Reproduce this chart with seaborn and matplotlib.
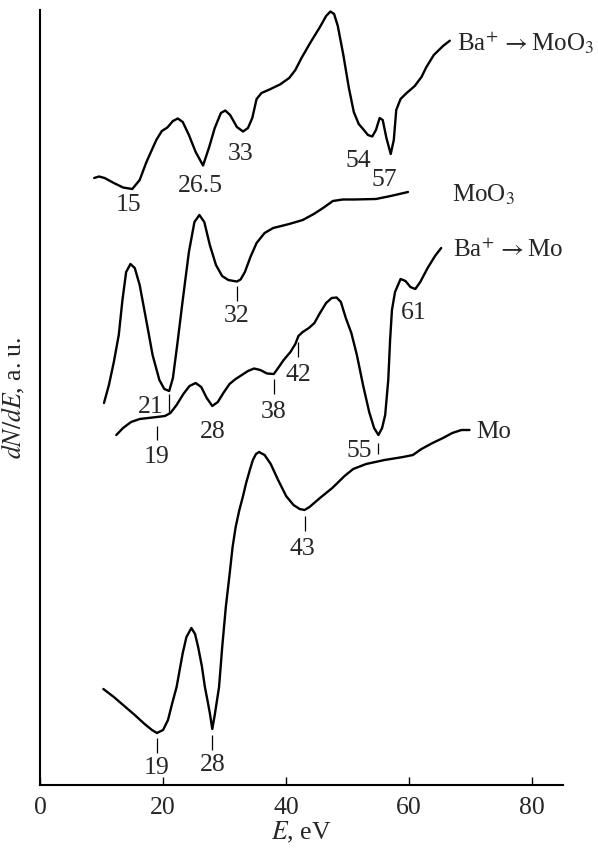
import numpy as np
import pandas as pd
import matplotlib
matplotlib.use("Agg")
import matplotlib.pyplot as plt
import seaborn as sns

# Auger spectra dN/dE (arbitrary units, curves offset vertically) versus electron energy E (eV)
ba_moo3_E = [8.8, 9.6, 10.5, 12, 13.5, 15, 16.2, 17.3, 18.9, 19.8, 20.7, 21.6, 22.4, 23.2, 24.2,
             25.3, 26.5, 27.5, 28.4, 29.4, 30.1, 30.9, 32, 33, 33.8, 34.5, 35.2, 36, 37.3, 39,
             40.5, 41.5, 42.5, 44, 45.5, 46.5, 47.2, 47.8, 48.4, 49.3, 50.2, 51, 51.8, 52.5, 53.3,
             54, 54.6, 55.2, 55.7, 56.3, 57, 57.5, 57.9, 58.6, 59.5, 60.9, 62, 62.8, 64, 65.5, 66.6]
ba_moo3_S = [6.07, 6.085, 6.07, 6.02, 5.975, 5.96, 6.05, 6.23, 6.45, 6.54, 6.575, 6.64, 6.665, 6.63, 6.50,
             6.33, 6.195, 6.38, 6.57, 6.72, 6.745, 6.70, 6.58, 6.535, 6.57, 6.67, 6.86, 6.92, 6.955, 7.005,
             7.07, 7.15, 7.27, 7.43, 7.58, 7.69, 7.735, 7.71, 7.59, 7.30, 6.97, 6.73, 6.61, 6.56, 6.50,
             6.485, 6.55, 6.67, 6.65, 6.47, 6.31, 6.45, 6.75, 6.86, 6.915, 6.99, 7.08, 7.18, 7.30, 7.39, 7.443]

moo3_E = [10.4, 11.2, 12, 12.8, 13.4, 14, 14.7, 15.4, 16.2, 17.2, 18.3, 19.4, 20.2, 21, 21.6,
          22.3, 23.2, 24.2, 25.1, 25.9, 26.7, 27.6, 28.6, 29.6, 30.6, 31.5, 32, 32.6, 33.3, 34.2,
          35.2, 36.5, 37.9, 40.5, 42.7, 44.5, 46, 47.6, 49.2, 51, 54.6, 57, 59.8]
moo3_S = [3.82, 4.00, 4.23, 4.50, 4.85, 5.13, 5.21, 5.17, 5.00, 4.67, 4.30, 4.05, 3.96, 3.94, 4.07,
          4.40, 4.85, 5.33, 5.63, 5.70, 5.63, 5.40, 5.20, 5.09, 5.05, 5.04, 5.035, 5.055, 5.13, 5.28,
          5.42, 5.52, 5.57, 5.61, 5.65, 5.71, 5.77, 5.84, 5.855, 5.855, 5.86, 5.89, 5.93]

ba_mo_E = [12.4, 13.5, 14.8, 16.2, 17.6, 19, 20.3, 21.2, 22.2, 23.3, 24.3, 25.3, 26.2, 27.1, 28,
           28.9, 29.8, 30.8, 31.8, 32.8, 33.8, 34.8, 35.8, 36.9, 38, 38.7, 39.6, 40.7, 41.5, 42,
           42.7, 43.7, 44.6, 45.5, 46.5, 47.4, 48.2, 48.9, 49.7, 50.6, 51.5, 52.5, 53.5, 54.3, 55,
           55.6, 56.1, 56.6, 56.9, 57.2, 57.7, 58.6, 59.4, 60.2, 61, 61.8, 63, 64.2, 65.2]
ba_mo_S = [3.50, 3.57, 3.63, 3.66, 3.67, 3.68, 3.69, 3.72, 3.80, 3.91, 3.99, 4.02, 3.98, 3.87, 3.79,
           3.83, 3.92, 4.01, 4.06, 4.10, 4.14, 4.165, 4.15, 4.115, 4.11, 4.17, 4.25, 4.33, 4.41, 4.49,
           4.53, 4.57, 4.62, 4.72, 4.82, 4.87, 4.875, 4.83, 4.67, 4.52, 4.30, 4.00, 3.73, 3.57, 3.50,
           3.57, 3.70, 4.05, 4.45, 4.75, 4.93, 5.06, 5.04, 4.98, 4.96, 5.03, 5.17, 5.29, 5.37]

mo_E = [10.3, 12, 13.7, 15.4, 17, 18.2, 19, 20, 20.8, 21.5, 22.2, 22.7, 23.2, 23.8, 24.6,
        25.2, 25.7, 26.3, 26.8, 27.3, 27.6, 28, 28.4, 29.1, 29.6, 30.2, 30.8, 31.3, 31.8, 32.4,
        33, 33.5, 34.1, 34.6, 35.1, 35.6, 36.5, 37.5, 38.7, 40, 41.2, 42.2, 43, 43.8, 45.5,
        47.5, 49.5, 50.9, 53, 56, 59, 60.6, 62, 63.8, 65.5, 67, 68.5, 69.8]
mo_S = [0.96, 0.88, 0.79, 0.70, 0.61, 0.55, 0.52, 0.55, 0.65, 0.82, 0.98, 1.15, 1.32, 1.48, 1.57,
        1.51, 1.38, 1.19, 0.98, 0.82, 0.72, 0.56, 0.70, 0.98, 1.37, 1.78, 2.10, 2.38, 2.58, 2.75,
        2.89, 3.02, 3.15, 3.25, 3.31, 3.33, 3.30, 3.21, 3.05, 2.89, 2.80, 2.76, 2.75, 2.78, 2.87,
        2.97, 3.09, 3.16, 3.21, 3.25, 3.28, 3.30, 3.36, 3.42, 3.47, 3.52, 3.55, 3.55]

# Energies (eV) of the marked spectral features on each curve
ba_moo3_peaks = [15, 26.5, 33, 54, 57]
moo3_peaks = [21, 32]
ba_mo_peaks = [19, 28, 38, 42, 55, 61]
mo_peaks = [19, 28, 43]

curve_names = ["Ba+ -> MoO3", "MoO3", "Ba+ -> Mo", "Mo"]
curve_labels = [r"Ba$^{+}\,\rightarrow$MoO$_{3}$", r"MoO$_{3}$",
                r"Ba$^{+}\,\rightarrow$Mo", "Mo"]

x_ticks = [0, 20, 40, 60, 80]

# ---------------------------------------------------------------- style
sns.set_theme(style="white")
plt.rcParams["font.family"] = ["Liberation Serif", "DejaVu Serif"]
plt.rcParams["mathtext.fontset"] = "stix"
FS = 18.5

W, H = 598, 848
fig = plt.figure(figsize=(W / 100, H / 100), dpi=100)
ax = fig.add_axes([40 / W, 1 - 785 / H, 523 / W, 775 / H])

frames = []
for name, E, S in [(curve_names[0], ba_moo3_E, ba_moo3_S),
                   (curve_names[1], moo3_E, moo3_S),
                   (curve_names[2], ba_mo_E, ba_mo_S),
                   (curve_names[3], mo_E, mo_S)]:
    frames.append(pd.DataFrame({"E": E, "S": S, "sample": name}))
df = pd.concat(frames, ignore_index=True)

sns.lineplot(data=df, x="E", y="S", units="sample", estimator=None, sort=False,
             color="black", lw=1.7, ax=ax, legend=False)

ax.set_xlim(0, 85)
ax.set_ylim(0, 7.75)

# size of one pixel in data units along each axis
PX_X = 85 / 523
PX_Y = 7.75 / 775

# feature markers: (kind, dx px, tick gap px, tick length px, text gap px)
#  kind 'tick'  -> short vertical line below the feature and the value beneath it
#  kind 'text'  -> value only, beneath the feature
#  kind 'side'  -> short vertical line with the value on its left
layout = {
    curve_names[0]: [("text", -4, 0, 0, 5), ("text", -3, 0, 0, 10), ("text", -2, 0, 0, 11),
                     ("text", -14, 0, 0, 14), ("text", -6, 0, 0, 15)],
    curve_names[1]: [("side", 0, 3, 18, 22), ("tick", 0, 4, 15, 4)],
    curve_names[2]: [("tick", 0, 9, 14, 6), ("text", 0, 0, 0, 15), ("tick", 0, 5, 15, 7),
                     ("tick", 0, 6, 15, 7), ("side", 0, 8, 11, 22), ("text", -2, 0, 0, 13)],
    curve_names[3]: [("tick", 0, 5, 15, 4), ("tick", 0, 6, 15, 4), ("tick", -2, 6, 15, 7)],
}
peaks = {curve_names[0]: ba_moo3_peaks, curve_names[1]: moo3_peaks,
         curve_names[2]: ba_mo_peaks, curve_names[3]: mo_peaks}

for name in curve_names:
    sub = df[df["sample"] == name]
    for e, (kind, dx, g, L, tg) in zip(peaks[name], layout[name]):
        y0 = np.interp(e, sub["E"], sub["S"])
        label = f"{e:g}"
        if kind == "text":
            ax.text(e + dx * PX_X, y0 - tg * PX_Y, label, ha="center", va="top", fontsize=FS)
        else:
            y_top = y0 - g * PX_Y
            y_bot = y_top - L * PX_Y
            ax.vlines(e, y_bot, y_top, color="black", lw=0.9)
            if kind == "tick":
                ax.text(e + dx * PX_X, y_bot - tg * PX_Y, label, ha="center", va="top", fontsize=FS)
            else:
                ax.text(e - 6 * PX_X, y0 - tg * PX_Y, label, ha="right", va="baseline", fontsize=FS)

# curve names at the right-hand ends
name_pos = [(67.8, 7.343), (67.0, 5.833), (67.2, 5.277), (70.9, 3.467)]
for txt, (xe, ys) in zip(curve_labels, name_pos):
    ax.text(xe, ys, txt, ha="left", va="baseline", fontsize=18)

# axes decoration
for side in ["top", "right"]:
    ax.spines[side].set_visible(False)
for side in ["left", "bottom"]:
    ax.spines[side].set_color("black")
    ax.spines[side].set_linewidth(1.5)
ax.set_xticks(x_ticks)
ax.set_xticklabels([str(t) for t in x_ticks])
ax.set_yticks([])
ax.tick_params(axis="x", direction="in", length=6, width=1.0, color="black",
               labelsize=FS, pad=9, bottom=True)
ax.set_xlabel(r"$E$, eV", fontsize=FS, labelpad=0)
ax.set_ylabel(r"$dN/dE$, a. u.", fontsize=FS)
ax.yaxis.set_label_coords(-0.025, 0.5)

fig.savefig("out.png", dpi=100, facecolor="white")
